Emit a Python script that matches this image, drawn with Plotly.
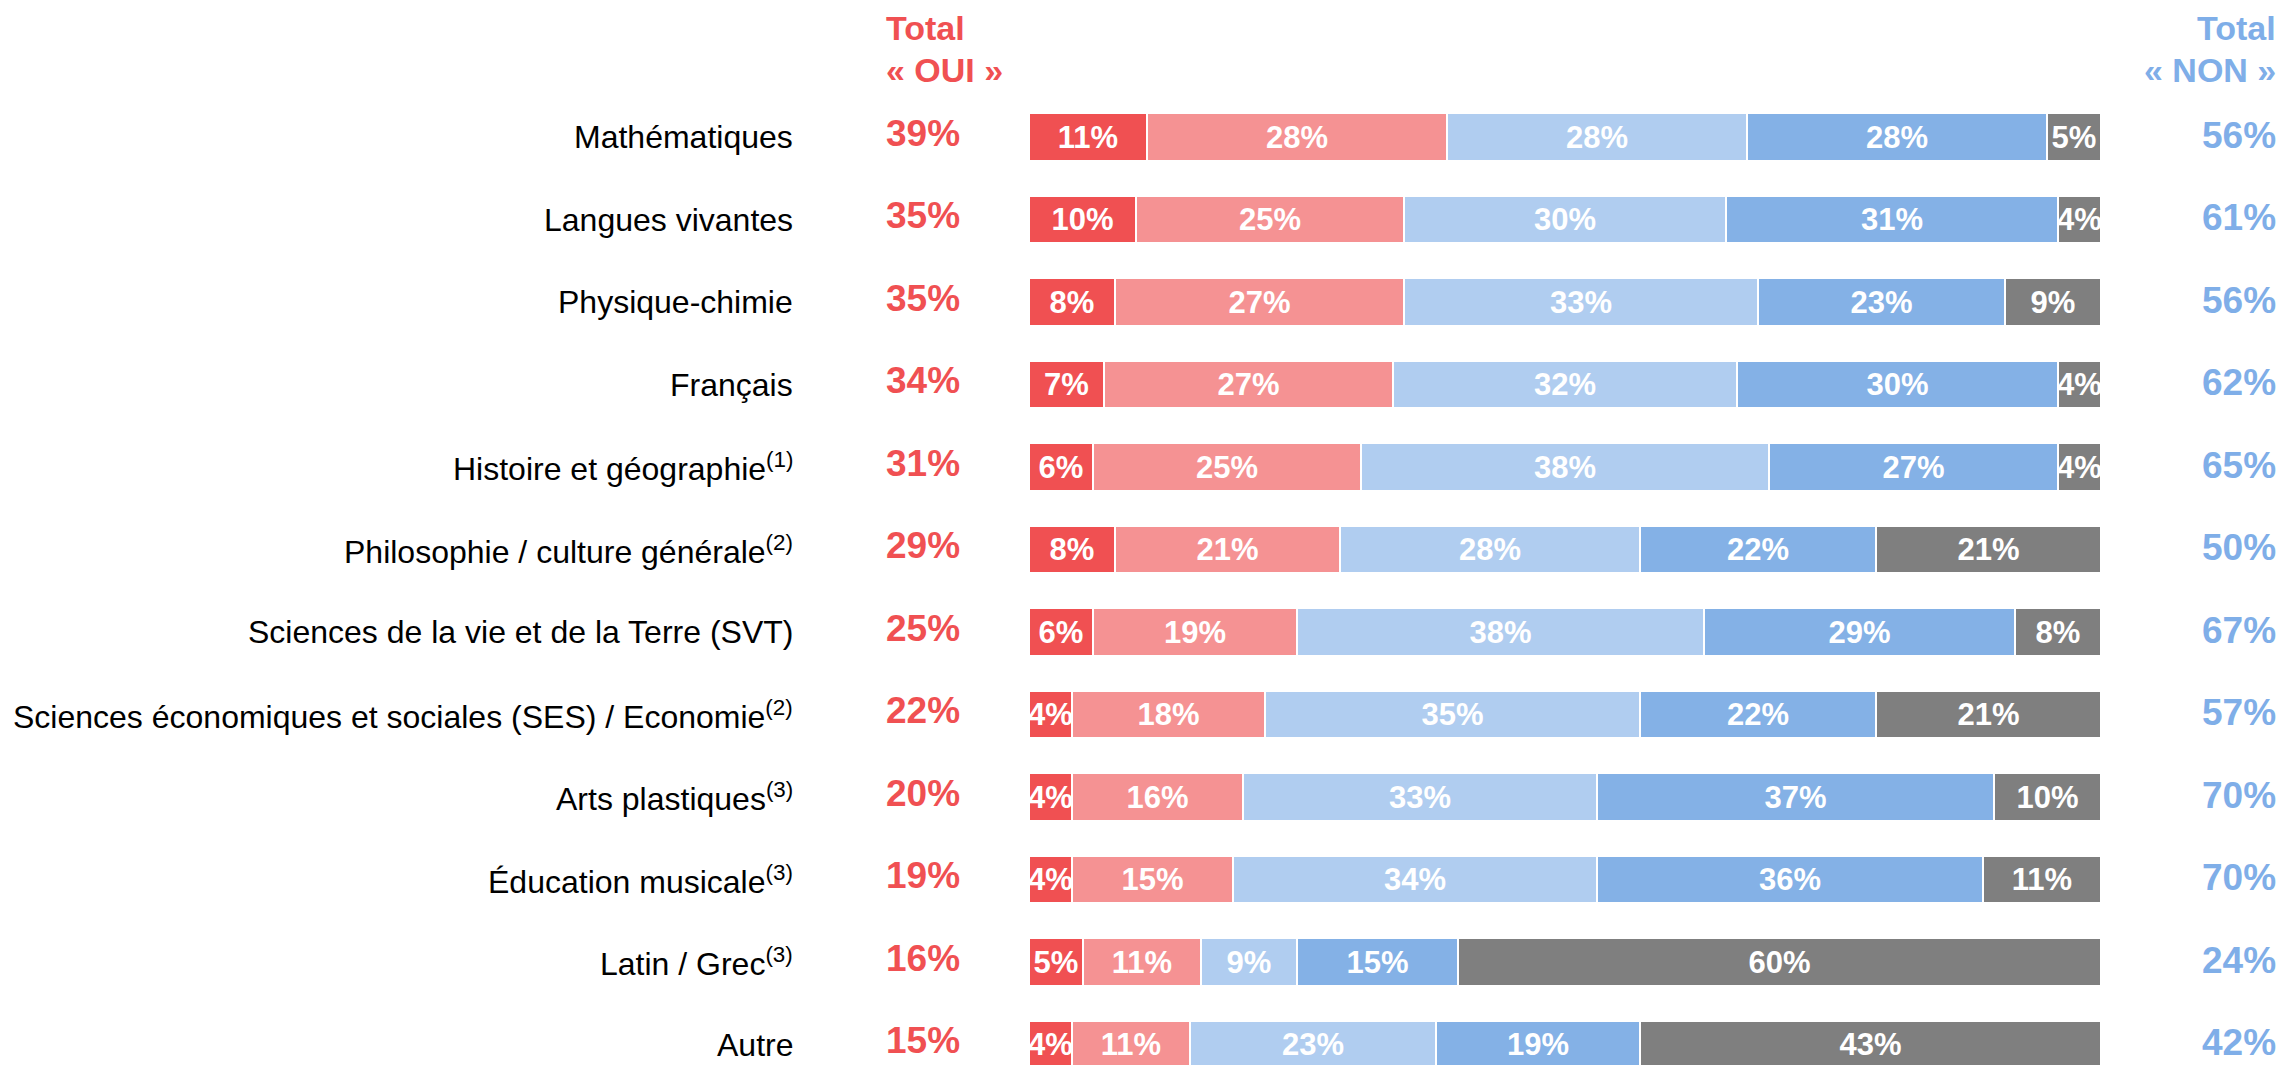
import plotly.graph_objects as go

# Subjects (top to bottom)
subjects = [
    "Mathématiques",
    "Langues vivantes",
    "Physique-chimie",
    "Français",
    "Histoire et géographie<sup>(1)</sup>",
    "Philosophie / culture générale<sup>(2)</sup>",
    "Sciences de la vie et de la Terre (SVT)",
    "Sciences économiques et sociales (SES) / Economie<sup>(2)</sup>",
    "Arts plastiques<sup>(3)</sup>",
    "Éducation musicale<sup>(3)</sup>",
    "Latin / Grec<sup>(3)</sup>",
    "Autre",
]

# Answer shares (%) for each subject
oui_tout_a_fait = [11, 10, 8, 7, 6, 8, 6, 4, 4, 4, 5, 4]
oui_plutot = [28, 25, 27, 27, 25, 21, 19, 18, 16, 15, 11, 11]
non_plutot_pas = [28, 30, 33, 32, 38, 28, 38, 35, 33, 34, 9, 23]
non_pas_du_tout = [28, 31, 23, 30, 27, 22, 29, 22, 37, 36, 15, 19]
non_concerne = [5, 4, 9, 4, 4, 21, 8, 21, 10, 11, 60, 43]

# Totals shown beside each bar
total_oui = [39, 35, 35, 34, 31, 29, 25, 22, 20, 19, 16, 15]
total_non = [56, 61, 56, 62, 65, 50, 67, 57, 70, 70, 24, 42]

series = [
    (oui_tout_a_fait, "#F05052"),
    (oui_plutot, "#F59293"),
    (non_plutot_pas, "#B0CDF0"),
    (non_pas_du_tout, "#84B1E6"),
    (non_concerne, "#7F7F7F"),
]

W, H = 2282, 1065
FONT = "Liberation Sans, Arial, sans-serif"
RED = "#F05052"
BLUE = "#7FAEE8"

rows = list(range(len(subjects)))

fig = go.Figure()
for values, color in series:
    fig.add_trace(go.Bar(
        x=values,
        y=rows,
        orientation="h",
        width=0.58,
        marker=dict(color=color, line=dict(color="white", width=2)),
        text=[f"{v}%" for v in values],
        textposition="inside",
        insidetextanchor="middle",
        textangle=0,
        textfont=dict(family=FONT, size=31, color="white", weight="bold"),
        cliponaxis=True,
        hoverinfo="skip",
        showlegend=False,
    ))

annotations = []
for i, name in enumerate(subjects):
    annotations.append(dict(
        x=795 / W, xref="paper", y=i, yref="y",
        text=name, showarrow=False, xanchor="right", yanchor="middle",
        font=dict(family=FONT, size=32, color="#000000"),
    ))
    annotations.append(dict(
        x=884 / W, xref="paper", y=i, yref="y", yshift=4,
        text=f"<b>{total_oui[i]}%</b>", showarrow=False, xanchor="left", yanchor="middle",
        font=dict(family=FONT, size=37, color=RED),
    ))
    annotations.append(dict(
        x=2278 / W, xref="paper", y=i, yref="y", yshift=2,
        text=f"<b>{total_non[i]}%</b>", showarrow=False, xanchor="right", yanchor="middle",
        font=dict(family=FONT, size=37, color=BLUE),
    ))

# Column headers
for txt, ypx in (("Total", 28), ("« OUI »", 70)):
    annotations.append(dict(
        x=884 / W, xref="paper", y=1 - ypx / H, yref="paper",
        text=f"<b>{txt}</b>", showarrow=False, xanchor="left", yanchor="middle",
        font=dict(family=FONT, size=34, color=RED),
    ))
for txt, ypx in (("Total", 28), ("« NON »", 70)):
    annotations.append(dict(
        x=2278 / W, xref="paper", y=1 - ypx / H, yref="paper",
        text=f"<b>{txt}</b>", showarrow=False, xanchor="right", yanchor="middle",
        font=dict(family=FONT, size=34, color=BLUE),
    ))

row_px = 82.5
first_px = 137
y_top = -first_px / row_px
y_bottom = (H - first_px) / row_px

fig.update_layout(
    width=W, height=H,
    margin=dict(l=0, r=0, t=0, b=0),
    paper_bgcolor="white", plot_bgcolor="white",
    barmode="stack",
    bargap=0,
    uniformtext=dict(minsize=31, mode="show"),
    xaxis=dict(domain=[1029 / W, 2101 / W], range=[0, 100], visible=False, fixedrange=True),
    yaxis=dict(range=[y_bottom, y_top], visible=False, fixedrange=True),
    annotations=annotations,
)

fig.write_html("out.html")
